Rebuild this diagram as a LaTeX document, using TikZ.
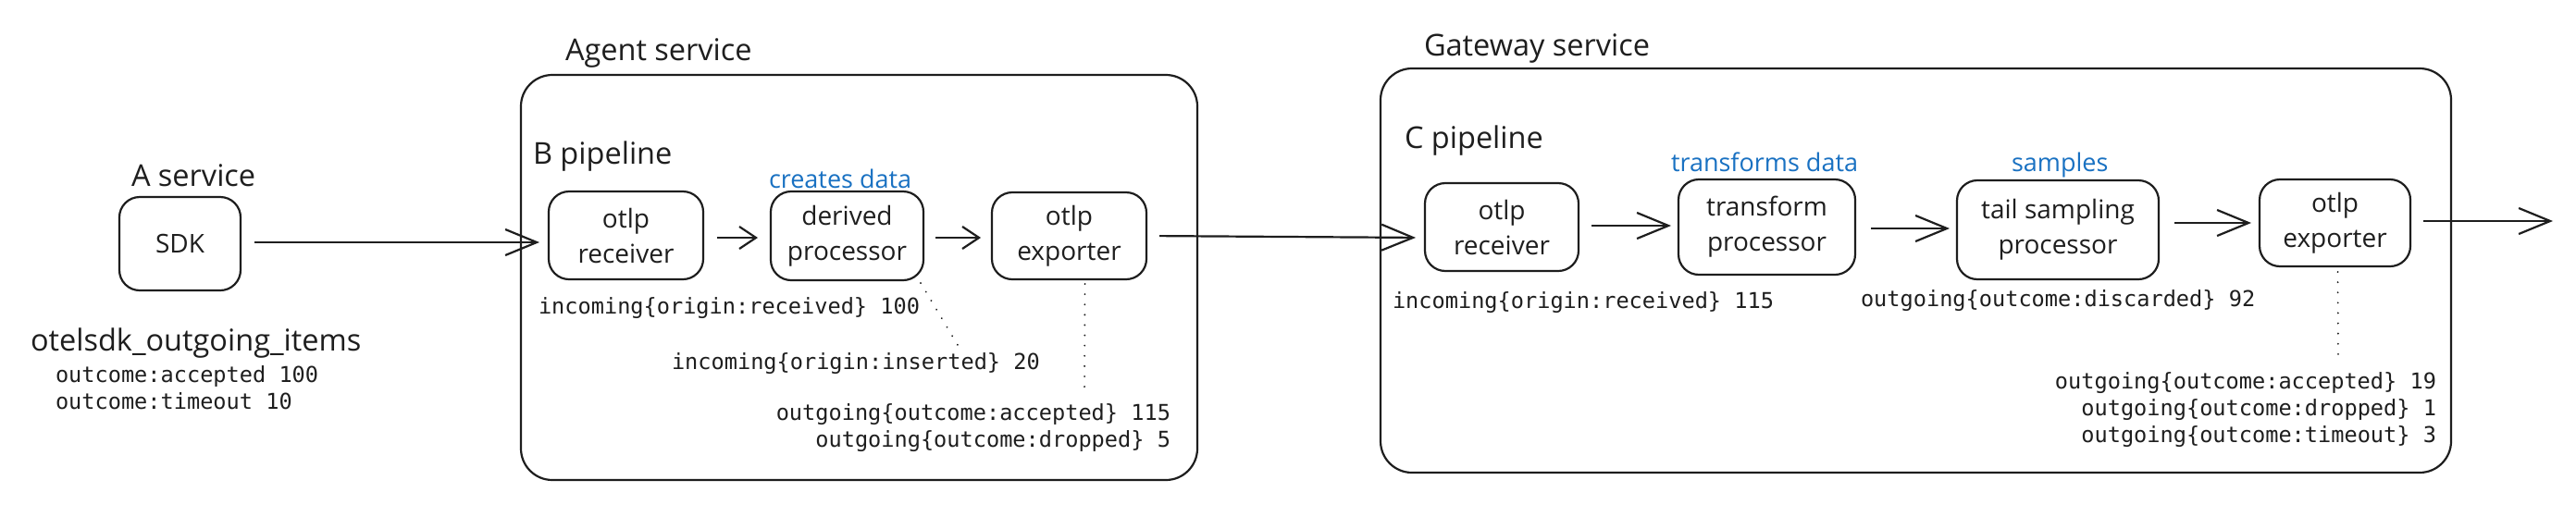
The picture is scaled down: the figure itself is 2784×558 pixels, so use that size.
\documentclass[tikz,border=0pt]{standalone}
\usepackage{fontspec}
\setmainfont{Open Sans}
\newfontfamily\handfont{Open Sans}
\newfontfamily\codefont{DejaVu Sans Mono}
\usetikzlibrary{arrows.meta}
\definecolor{ink}{HTML}{1E1E1E}
\definecolor{noteblue}{HTML}{1971C2}
\tikzset{
  x=1pt, y=-1pt,
  every node/.style={inner sep=0pt, outer sep=0pt},
  stage/.style={draw=ink, line width=2.2pt, rounded corners=22pt, align=center,
    font=\handfont\fontsize{28}{38}\selectfont, text=ink},
  servicebox/.style={draw=ink, line width=2.2pt, rounded corners=34pt},
  handlabel/.style={anchor=base west, font=\handfont\fontsize{32.5}{38}\selectfont, text=ink},
  bluelabel/.style={anchor=base west, font=\handfont\fontsize{27}{32}\selectfont, text=noteblue},
  code/.style={font=\codefont\fontsize{23.6}{29}\selectfont, text=ink},
  flow/.style={draw=ink, line width=2.2pt, -{Straight Barb[length=18pt, width=24pt, line width=2.2pt]}},
  bigflow/.style={draw=ink, line width=2.2pt, -{Straight Barb[length=34pt, width=28pt, line width=2.2pt]}},
  leader/.style={draw=ink, line width=2pt, line cap=round, dash pattern=on 0.1pt off 11pt}
}
\begin{document}
\begin{tikzpicture}
\fill[white] (0,0) rectangle (2784,558);
\useasboundingbox (0,0) rectangle (2784,558);

% service frames
\draw[servicebox] (563,81) rectangle (1294,519);
\draw[servicebox] (1492,74) rectangle (2649,511);

% labels
\node[handlabel] (lblA) at (142,201) {A service};
\node[handlabel] (lblAgent) at (611,65) {Agent service};
\node[handlabel] (lblB) at (576,177) {B pipeline};
\node[handlabel] (lblGw) at (1539,60) {Gateway service};
\node[handlabel] (lblC) at (1518,160) {C pipeline};
\node[handlabel] (lblMetric) at (33,379) {otelsdk\_outgoing\_items};
\node[bluelabel] (noteCreate) at (831,203) {creates data};
\node[bluelabel] (noteTrans) at (1806,185) {transforms data};
\node[bluelabel] (noteSamp) at (2174,185) {samples};

% stages
\node[stage, minimum width=131pt, minimum height=101pt] (sdk) at (194.5,263.5) {SDK};
\node[stage, minimum width=167pt, minimum height=95pt] (rec) at (676.5,254.5) {otlp\\receiver};
\node[stage, minimum width=165pt, minimum height=96pt] (der) at (915.5,255) {derived\\processor};
\node[stage, minimum width=167pt, minimum height=94pt] (bexp) at (1155.5,255) {otlp\\exporter};
\node[stage, minimum width=166pt, minimum height=95pt] (crec) at (1623,245.5) {otlp\\receiver};
\node[stage, minimum width=191pt, minimum height=103pt] (trans) at (1909.5,245.5) {transform\\processor};
\node[stage, minimum width=218pt, minimum height=107pt] (tail) at (2224,248.5) {tail sampling\\processor};
\node[stage, minimum width=163pt, minimum height=94pt] (cexp) at (2523.5,241) {otlp\\exporter};
\coordinate (outEnd) at (2759,239);

% connectors
\draw[bigflow, shorten <=15pt, shorten >=10pt] (sdk.east |- 0,262) -- (rec.west |- 0,262);
\draw[flow, shorten <=15pt, shorten >=14pt] (rec.east |- 0,257) -- (der.west |- 0,257);
\draw[flow, shorten <=13pt, shorten >=12pt] (der.east |- 0,257) -- (bexp.west |- 0,257);
\draw[bigflow, shorten <=14pt, shorten >=10pt] (bexp.east |- 0,255) -- (crec.west |- 0,257);
\draw[bigflow, shorten <=14pt, shorten >=8pt] (crec.east |- 0,244) -- (trans.west |- 0,244);
\draw[bigflow, shorten <=17pt, shorten >=8pt] (trans.east |- 0,247) -- (tail.west |- 0,247);
\draw[bigflow, shorten <=17pt, shorten >=9pt] (tail.east |- 0,241) -- (cexp.west |- 0,241);
\draw[bigflow, shorten <=14pt] (cexp.east |- 0,239) -- (outEnd);

% metric texts
\node[code, anchor=north west, align=left] (sdkStats) at (60,396) {outcome:accepted 100\\outcome:timeout 10};
\node[code, anchor=west] (recStat) at (582,333) {incoming\{origin:received\} 100};
\node[code, anchor=west] (insStat) at (726,393) {incoming\{origin:inserted\} 20};
\node[code, anchor=east, align=right] (bexpStat) at (1265,462.5) {outgoing\{outcome:accepted\} 115\\outgoing\{outcome:dropped\} 5};
\node[code, anchor=west] (crecStat) at (1505,327) {incoming\{origin:received\} 115};
\node[code, anchor=west] (tailStat) at (2011,325) {outgoing\{outcome:discarded\} 92};
\node[code, anchor=east, align=right] (cexpStat) at (2633,443) {outgoing\{outcome:accepted\} 19\\outgoing\{outcome:dropped\} 1\\outgoing\{outcome:timeout\} 3};

% dotted leaders
\coordinate (insEnd) at (1035,373);
\coordinate (bexpEnd) at (1172,427);
\coordinate (cexpEnd) at (2527,390);
\draw[leader] (der.south east) ++(-3,3) -- (insEnd);
\draw[leader] (bexp.south) ++(17,5) -- (bexpEnd);
\draw[leader] (cexp.south) ++(3,6) -- (cexpEnd);
\end{tikzpicture}
\end{document}
